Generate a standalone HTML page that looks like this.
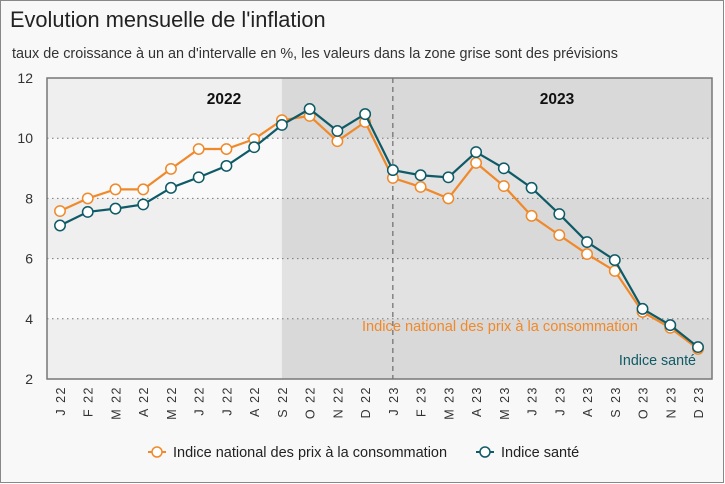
<!DOCTYPE html>
<html><head><meta charset="utf-8"><style>
body{margin:0;background:#fff;}
svg{display:block;font-family:"Liberation Sans",sans-serif;}
</style></head><body>
<svg id="c" width="725" height="484">
<rect x="0.5" y="0.5" width="723" height="482" fill="#f8f8f8" stroke="#888"/>
<text x="10" y="27" font-size="21.8" fill="#222">Evolution mensuelle de l'inflation</text>
<text x="12" y="58" font-size="14.4" fill="#333">taux de croissance à un an d'intervalle en %, les valeurs dans la zone grise sont des prévisions</text>
<g id="plot"></g>
<g>
<g>
<line x1="148" y1="452" x2="166" y2="452" stroke="#f0892a" stroke-width="2"/>
<circle cx="157" cy="452" r="5" fill="#fff" stroke="#f0892a" stroke-width="1.5"/>
<text x="173" y="457" font-size="14.5" fill="#222">Indice national des prix à la consommation</text>
</g>
<g>
<line x1="476" y1="452" x2="494" y2="452" stroke="#0e5a66" stroke-width="2"/>
<circle cx="485" cy="452" r="5" fill="#fff" stroke="#0e5a66" stroke-width="1.5"/>
<text x="501" y="457" font-size="14.5" fill="#222">Indice santé</text>
</g>
</g>
</svg>
<script>
const months=["J 22","F 22","M 22","A 22","M 22","J 22","J 22","A 22","S 22","O 22","N 22","D 22","J 23","F 23","M 23","A 23","M 23","J 23","J 23","A 23","S 23","O 23","N 23","D 23"];
const ipc=[7.58,8.0,8.3,8.3,8.98,9.64,9.64,9.97,10.6,10.74,9.9,10.54,8.68,8.38,8.0,9.18,8.41,7.42,6.78,6.15,5.59,4.23,3.7,3.0];
const sante=[7.1,7.55,7.66,7.8,8.35,8.7,9.08,9.7,10.44,10.97,10.24,10.8,8.94,8.77,8.7,9.54,9.0,8.35,7.48,6.55,5.95,4.33,3.79,3.06];
const yTicks=[2,4,6,8,10,12];
const forecastStart=8, yearSplit=12;
const NS="http://www.w3.org/2000/svg";
const L=47,R=712,T=78,B=379;
const x=i=>60+i*(698-60)/(months.length-1);
const y=v=>B-(v-2)*(B-T)/10;
const g=document.getElementById('plot');
function mk(t,a,p){const e=document.createElementNS(NS,t);for(const k in a)e.setAttribute(k,a[k]);(p||g).appendChild(e);return e;}
const sx=x(forecastStart);
for(let k=0;k<5;k++){
  const lo=2+2*k,hi=lo+2;
  const b1=mk('rect',{x:L,y:y(hi),width:sx-L,height:y(lo)-y(hi),fill:k%2?'#f9f9f9':'#efefef'});
  
  
  const b2=mk('rect',{x:sx,y:y(hi),width:R-sx,height:y(lo)-y(hi),fill:k%2?'#e2e2e2':'#d9d9d9'});
  
  
}
yTicks.forEach(v=>{
  if(v>2&&v<12){const gl=mk('line',{x1:L,x2:R,y1:y(v),y2:y(v),stroke:'#777','stroke-dasharray':'1.5 3.5'});
  
  }
  const t=mk('text',{x:L-14,y:y(v)+5,'font-size':14,'text-anchor':'end',fill:'#333'});t.textContent=v;
  
  
});
const vl=mk('line',{x1:x(yearSplit),x2:x(yearSplit),y1:T,y2:B,stroke:'#555','stroke-dasharray':'5 4'});


const fr=mk('rect',{x:L,y:T,width:R-L,height:B-T,fill:'none',stroke:'#777','stroke-width':1.5});


[['2022',224],['2023',557]].forEach(([s,cx])=>{const t=mk('text',{x:cx,y:104,'font-size':15.5,'font-weight':'bold','text-anchor':'middle',fill:'#111'});t.textContent=s;

});
months.forEach((m,i)=>{const t=mk('text',{transform:`translate(${x(i)+5},386) rotate(-90)`,'font-size':12.5,'text-anchor':'end',fill:'#333','letter-spacing':'1.5'});t.textContent=m;

});
function series(vals,col,name){
  const sg=mk('g',{});
  
  
  mk('polyline',{points:vals.map((v,i)=>x(i)+','+y(v)).join(' '),fill:'none',stroke:col,'stroke-width':2.2},sg);
  vals.forEach((v,i)=>{const c=mk('circle',{cx:x(i),cy:y(v),r:5.2,fill:'#fff',stroke:col,'stroke-width':1.5},sg);
  
  });
}
series(ipc,'#f0892a','series-ipc');
series(sante,'#0e5a66','series-sante');
const l1=mk('text',{x:362,y:331,'font-size':14.6,fill:'#f0892a'});l1.textContent='Indice national des prix à la consommation';


const l2=mk('text',{x:696,y:365,'font-size':14.3,'text-anchor':'end',fill:'#0e5a66'});l2.textContent='Indice santé';


</script>
</body></html>
